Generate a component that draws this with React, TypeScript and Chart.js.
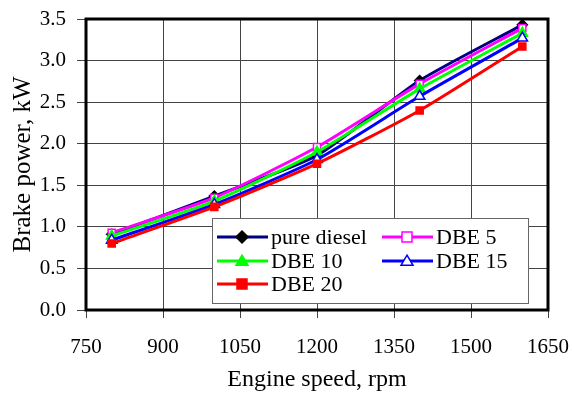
import React, { useEffect, useRef } from "react";
import { Chart, registerables } from "chart.js";

Chart.register(...registerables);

const speeds = [800, 1000, 1200, 1400, 1600];
const pureDiesel = [0.91, 1.37, 1.86, 2.76, 3.43];
const dbe5 = [0.93, 1.35, 1.96, 2.72, 3.39];
const dbe10 = [0.89, 1.31, 1.9, 2.66, 3.33];
const dbe15 = [0.84, 1.27, 1.81, 2.57, 3.27];
const dbe20 = [0.8, 1.24, 1.76, 2.4, 3.17];
const seriesNames = ["pure diesel", "DBE 5", "DBE 10", "DBE 15", "DBE 20"];
const xTicks = [750, 900, 1050, 1200, 1350, 1500, 1650];
const yTicks = [0, 0.5, 1, 1.5, 2, 2.5, 3, 3.5];

const FONT = "'Liberation Serif', 'Times New Roman', serif";

const styles = [
  { line: "#000080", style: "rectRot", fill: "#000000", border: "#000000", r: 5 },
  { line: "#ff00ff", style: "rect", fill: "#ffffff", border: "#ff00ff", r: 5 },
  { line: "#00ff00", style: "triangle", fill: "#00ff00", border: "#00ff00", r: 6 },
  { line: "#0000ff", style: "triangle", fill: "#ffffff", border: "#0000ff", r: 6 },
  { line: "#ff0000", style: "rect", fill: "#ff0000", border: "#ff0000", r: 5 },
];

function drawPoint(ctx: any, style: string, r: number, x: number, y: number) {
  ctx.beginPath();
  if (style === "rect") {
    ctx.rect(x - r, y - r, 2 * r, 2 * r);
  } else if (style === "rectRot") {
    ctx.moveTo(x, y - r * 1.2);
    ctx.lineTo(x + r * 1.2, y);
    ctx.lineTo(x, y + r * 1.2);
    ctx.lineTo(x - r * 1.2, y);
    ctx.closePath();
  } else {
    const h = r * 1.6;
    ctx.moveTo(x, y - h * 0.6);
    ctx.lineTo(x + r, y + h * 0.45);
    ctx.lineTo(x - r, y + h * 0.45);
    ctx.closePath();
  }
  ctx.fill();
  ctx.stroke();
}

export default function App() {
  const ref = useRef<HTMLCanvasElement>(null);
  useEffect(() => {
    document.body.style.margin = "0";
    const values = [pureDiesel, dbe5, dbe10, dbe15, dbe20];
    const framePlugin = {
      id: "frame",
      beforeDatasetsDraw(chart: any) {
        const { ctx, chartArea: a } = chart;
        ctx.save();
        ctx.strokeStyle = "#000";
        ctx.lineWidth = 3;
        ctx.strokeRect(a.left, a.top, a.right - a.left, a.bottom - a.top);
        ctx.restore();
      },
    };
    const legendPlugin = {
      id: "inLegend",
      afterDraw(chart: any) {
        const { ctx } = chart;
        const bx = 212, by = 218, bw = 316, bh = 85;
        ctx.save();
        ctx.fillStyle = "#fff";
        ctx.fillRect(bx, by, bw, bh);
        ctx.strokeStyle = "#666";
        ctx.lineWidth = 1;
        ctx.strokeRect(bx + 0.5, by + 0.5, bw, bh);
        const pos = [
          [217, 237], [382, 237], [217, 261], [382, 261], [217, 284],
        ];
        styles.forEach((s, i) => {
          const [x, y] = pos[i];
          ctx.strokeStyle = s.line;
          ctx.lineWidth = 3;
          ctx.beginPath();
          ctx.moveTo(x, y);
          ctx.lineTo(x + 51, y);
          ctx.stroke();
          ctx.fillStyle = s.fill;
          ctx.strokeStyle = s.border;
          ctx.lineWidth = 1.5;
          drawPoint(ctx, s.style, s.r, x + 25, y);
          ctx.fillStyle = "#000";
          ctx.font = `22px ${FONT}`;
          ctx.textBaseline = "middle";
          ctx.fillText(seriesNames[i], x + 54, y + 1);
        });
        ctx.restore();
      },
    };
    const zeroPad = (s: any) => {
      s.paddingLeft = 0;
      s.paddingRight = 0;
      s.paddingTop = 0;
      s.paddingBottom = 0;
    };
    const chart = new Chart(ref.current!, {
      type: "line",
      data: {
        datasets: values.map((v, i) => ({
          label: seriesNames[i],
          data: speeds.map((s, j) => ({ x: s, y: v[j] })),
          borderColor: styles[i].line,
          borderWidth: 3,
          pointStyle: styles[i].style as any,
          pointRadius: styles[i].r,
          pointBackgroundColor: styles[i].fill,
          pointBorderColor: styles[i].border,
          pointBorderWidth: 1.5,
          tension: 0.2,
          order: 5 - i,
        })),
      },
      options: {
        animation: false,
        responsive: false,
        layout: { padding: { top: 19, right: 26, left: 0, bottom: 0 } },
        plugins: { legend: { display: false }, tooltip: { enabled: false } },
        scales: {
          x: {
            type: "linear",
            min: 750,
            max: 1650,
            afterBuildTicks: (s: any) => {
              s.ticks = xTicks.map((v) => ({ value: v }));
            },
            afterFit: (s: any) => {
              s.height = 84;
              zeroPad(s);
            },
            grid: { color: "#444", lineWidth: 1, tickLength: 8, drawTicks: true },
            border: { display: false },
            ticks: {
              color: "#000",
              font: { family: FONT, size: 21 },
              padding: 17,
              maxRotation: 0,
              callback: (v: any) => String(v),
            },
            title: {
              display: true,
              text: "Engine speed, rpm",
              color: "#000",
              font: { family: FONT, size: 24 },
              padding: { top: 0, bottom: 0 },
            },
          },
          y: {
            min: 0,
            max: 3.5,
            afterBuildTicks: (s: any) => {
              s.ticks = yTicks.map((v) => ({ value: v }));
            },
            afterFit: (s: any) => {
              s.width = 86;
              zeroPad(s);
            },
            grid: { color: "#444", lineWidth: 1, tickLength: 9 },
            border: { display: false },
            ticks: {
              color: "#000",
              font: { family: FONT, size: 21 },
              padding: 11,
              callback: (v: any) => Number(v).toFixed(1),
            },
            title: {
              display: true,
              text: "Brake power, kW",
              color: "#000",
              font: { family: FONT, size: 25 },
              padding: { top: 8, bottom: 0 },
            },
          },
        },
      },
      plugins: [framePlugin, legendPlugin],
    });
    return () => chart.destroy();
  }, []);
  return (
    <div style={{ width: 574, height: 394 }}>
      <canvas ref={ref} width={574} height={394} style={{ width: 574, height: 394, display: "block" }} />
    </div>
  );
}
